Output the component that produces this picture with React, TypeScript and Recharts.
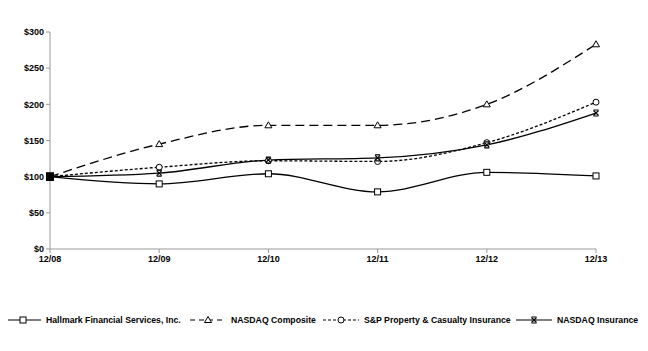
import React from 'react';
import { LineChart, Line, XAxis, YAxis } from 'recharts';

const periods = ['12/08', '12/09', '12/10', '12/11', '12/12', '12/13'];
const hallmark = [100, 90, 104, 79, 106, 101];
const nasdaqComposite = [100, 145, 171, 171, 200, 283];
const spInsurance = [100, 113, 122, 121, 147, 203];
const nasdaqInsurance = [100, 105, 123, 126, 144, 188];
const yTicks = [0, 50, 100, 150, 200, 250, 300];

const data = periods.map((p, i) => ({
  period: p,
  hallmark: hallmark[i],
  composite: nasdaqComposite[i],
  sp: spInsurance[i],
  insurance: nasdaqInsurance[i],
}));

const FONT = '"Liberation Sans", Arial, sans-serif';

const Marker = ({ kind, cx, cy }: { kind: string; cx: number; cy: number }) => {
  if (kind === 'square') {
    return <rect x={cx - 3} y={cy - 3} width={6} height={6} fill="#fff" stroke="#000" strokeWidth={1} />;
  }
  if (kind === 'triangle') {
    return <path d={`M${cx},${cy - 3.5} L${cx + 3.5},${cy + 2.5} L${cx - 3.5},${cy + 2.5} Z`} fill="#fff" stroke="#000" strokeWidth={1} />;
  }
  if (kind === 'circle') {
    return <circle cx={cx} cy={cy} r={3} fill="#fff" stroke="#000" strokeWidth={1} />;
  }
  return (
    <g stroke="#000" strokeWidth={1.2}>
      <path d={`M${cx - 2.5},${cy - 2.5} L${cx + 2.5},${cy + 2.5} M${cx + 2.5},${cy - 2.5} L${cx - 2.5},${cy + 2.5}`} />
      <path d={`M${cx - 2.5},${cy - 3} L${cx + 2.5},${cy - 3} M${cx - 2.5},${cy + 3} L${cx + 2.5},${cy + 3}`} />
    </g>
  );
};

const dotFor = (kind: string) => (props: any) => {
  const { cx, cy, index } = props;
  if (index === 0) {
    return <rect key={`d-${kind}-${index}`} x={cx - 4} y={cy - 4} width={8} height={8} fill="#000" />;
  }
  return <g key={`d-${kind}-${index}`}><Marker kind={kind} cx={cx} cy={cy} /></g>;
};

const legendItems = [
  { label: 'Hallmark Financial Services, Inc.', kind: 'square', dash: undefined, left: 5 },
  { label: 'NASDAQ Composite', kind: 'triangle', dash: '5 4', left: 190 },
  { label: 'S&P Property & Casualty Insurance', kind: 'circle', dash: '3 2', left: 323 },
  { label: 'NASDAQ Insurance', kind: 'star', dash: undefined, left: 516 },
];

const App = () => {
  return (
    <div style={{ margin: -8, width: 648, height: 351, background: '#fff', position: 'relative' }}>
      <LineChart width={648} height={351} data={data} margin={{ top: 32, right: 52, left: 0, bottom: 72 }}>
        <XAxis
          dataKey="period"
          stroke="#999"
          tickLine={{ stroke: '#999' }}
          tickSize={4}
          tick={{ fill: '#000', fontSize: 9, fontWeight: 700, fontFamily: FONT, dy: 1 }}
          interval={0}
        />
        <YAxis
          width={50}
          domain={[0, 300]}
          ticks={yTicks}
          stroke="#999"
          tickSize={4}
          tickFormatter={(v) => `$${v}`}
          tick={{ fill: '#000', fontSize: 9, fontWeight: 700, fontFamily: FONT }}
        />
        <Line type="monotone" dataKey="hallmark" stroke="#000" strokeWidth={1.3} dot={dotFor('square')} isAnimationActive={false} />
        <Line type="monotone" dataKey="composite" stroke="#000" strokeWidth={1.3} strokeDasharray="9 5" dot={dotFor('triangle')} isAnimationActive={false} />
        <Line type="monotone" dataKey="sp" stroke="#000" strokeWidth={1.3} strokeDasharray="3 2" dot={dotFor('circle')} isAnimationActive={false} />
        <Line type="monotone" dataKey="insurance" stroke="#000" strokeWidth={1.3} dot={dotFor('star')} isAnimationActive={false} />
      </LineChart>
      {legendItems.map((item) => (
        <div
          key={item.label}
          style={{
            position: 'absolute',
            left: item.left,
            top: 315,
            display: 'flex',
            alignItems: 'center',
            fontFamily: FONT,
            fontSize: 8.7,
            fontWeight: 700,
            whiteSpace: 'nowrap',
          }}
        >
          <svg width={37} height={10}>
            <line x1={0} y1={5} x2={36} y2={5} stroke="#000" strokeWidth={1.2} strokeDasharray={item.dash} />
            <Marker kind={item.kind} cx={18} cy={5} />
          </svg>
          <span style={{ marginLeft: 4 }}>{item.label}</span>
        </div>
      ))}
    </div>
  );
};

export default App;
